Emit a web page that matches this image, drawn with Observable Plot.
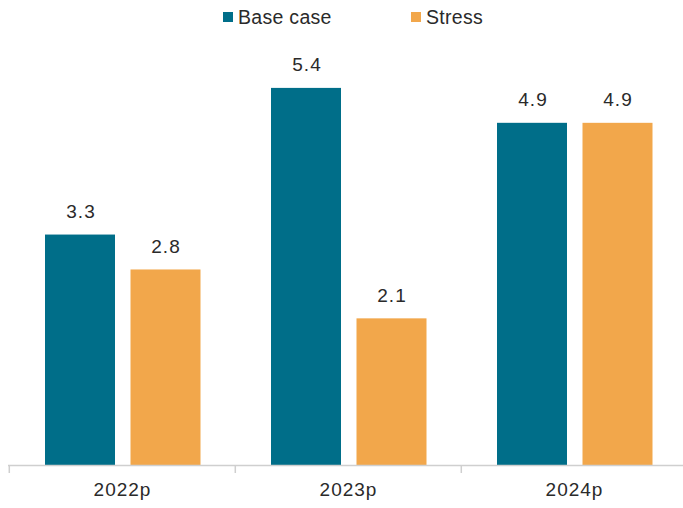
<!DOCTYPE html>
<html>
<head>
<meta charset="utf-8">
<script src="https://cdn.jsdelivr.net/npm/d3@7"></script>
<script src="https://cdn.jsdelivr.net/npm/@observablehq/plot@0.6"></script>
<style>
  html, body { margin: 0; padding: 0; background: #fff; overflow: hidden; }
  #wrap { position: relative; width: 683px; height: 508px; font-family: "Liberation Sans", Arial, sans-serif; overflow: hidden; }
  .lg { position: absolute; top: 5px; font-size: 19.5px; letter-spacing: 0.3px; color: #2a2a2a; display: flex; align-items: center; line-height: 24px; }
  .sw { width: 10px; height: 10px; display: inline-block; margin-right: 5px; }
  #chart { position: absolute; left: 0; top: 0; }
  #chart text { letter-spacing: 1px; }
</style>
</head>
<body>
<div id="wrap">
  <div id="chart"></div>
  <div id="legend"></div>
</div>
<script>
const years = ["2022p", "2023p", "2024p"];
const seriesNames = ["Base case", "Stress"];
const baseCase = [3.3, 5.4, 4.9];
const stress = [2.8, 2.1, 4.9];
const colors = ["#006e89", "#f2a74b"];

const baseRows = years.map((y, i) => ({year: y, series: seriesNames[0], value: baseCase[i]}));
const stressRows = years.map((y, i) => ({year: y, series: seriesNames[1], value: stress[i]}));

const font = "'Liberation Sans', Arial, sans-serif";

const chart = Plot.plot({
  width: 683,
  height: 508,
  marginTop: 46,
  marginBottom: 43,
  marginLeft: 8,
  marginRight: -4,
  style: {fontFamily: font, fontSize: "19px", color: "#2a2a2a", overflow: "visible"},
  x: {domain: years, padding: 0, axis: null},
  y: {domain: [0, 6], axis: null},
  color: {domain: seriesNames, range: colors},
  marks: [
    Plot.barY(baseRows, {x: "year", y: "value", fill: colors[0], insetLeft: 36, insetRight: 120}),
    Plot.barY(stressRows, {x: "year", y: "value", fill: colors[1], insetLeft: 121.5, insetRight: 34.5}),
    Plot.text(baseRows, {x: "year", y: "value", text: d => d.value.toFixed(1), dx: -41.5, dy: -23, fontSize: 19, fill: "#2a2a2a"}),
    Plot.text(stressRows, {x: "year", y: "value", text: d => d.value.toFixed(1), dx: 43.5, dy: -23, fontSize: 19, fill: "#2a2a2a"}),
    Plot.ruleY([0], {stroke: "#cfcfcf", strokeWidth: 1.5}),
    Plot.ruleX(years, {x: d => d, dx: -113.2, stroke: "#cfcfcf", strokeWidth: 1.5, insetTop: 419, insetBottom: -8}),
    Plot.axisX({tickSize: 0, tickPadding: 17, fontSize: 19, color: "#2a2a2a", label: null})
  ]
});
document.getElementById("chart").appendChild(chart);

const legend = document.getElementById("legend");
const legendX = [223, 411];
seriesNames.forEach((name, i) => {
  const item = document.createElement("div");
  item.className = "lg";
  item.style.left = legendX[i] + "px";
  const sw = document.createElement("span");
  sw.className = "sw";
  sw.style.background = colors[i];
  item.appendChild(sw);
  item.appendChild(document.createTextNode(name));
  legend.appendChild(item);
});
</script>
</body>
</html>
